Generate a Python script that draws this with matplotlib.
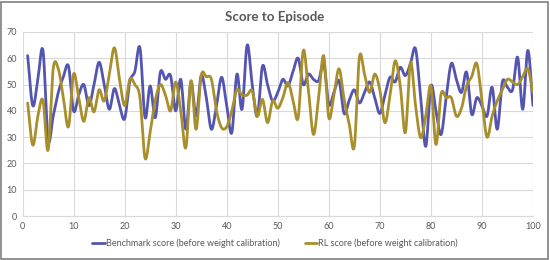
import numpy as np
import matplotlib.pyplot as plt

plt.rcParams['font.family'] = ['Lato', 'DejaVu Sans']

episodes = list(range(1, 101))
benchmark = [61, 42, 52, 63, 29, 38, 47, 53, 57, 40,
             46, 50, 42, 50, 58.5, 50, 40.6, 48.5, 42, 37,
             51, 55, 64, 37.5, 49.5, 37.4, 54.7, 52, 53.4, 40,
             52, 33, 51, 38, 53.4, 45, 33, 42, 52.8, 42,
             31.7, 54, 40.6, 65, 50, 38, 57, 50, 43.8, 47,
             52, 49.5, 55, 60, 50, 54, 52, 51.5, 58, 42.5,
             47, 51.5, 39, 44, 48, 43, 47, 51, 45, 39,
             46, 52.8, 51, 56.6, 53.4, 58, 63.6, 45, 26.5, 49.5,
             40, 31, 45, 58, 52, 47, 54.7, 38.7, 45, 42,
             38, 49, 33, 51, 49, 48, 60.4, 40.6, 63, 42]
rl = [43, 27, 38, 44, 25, 56, 56, 45, 34, 54,
      45, 36, 45, 39.6, 48, 43.8, 54, 64, 52, 42,
      52, 50, 45, 22, 32, 44, 50, 46, 40, 51,
      40, 26, 51.5, 33, 53.4, 53, 52, 40, 33.6, 34,
      40, 48, 46, 46, 47.6, 38, 44.4, 35.5, 43.8, 41,
      45, 50.8, 44, 37.4, 63, 48, 31, 45, 61, 37.4,
      46, 56, 44.4, 35, 26.5, 60.4, 54, 47, 54, 48,
      35.5, 46, 59, 49.5, 31.7, 58.5, 42, 29.8, 38, 49.5,
      27.2, 46.4, 45, 45, 38, 41, 49.5, 53, 58, 44,
      30, 38, 43.8, 48, 52, 51, 50, 53, 56, 47]
labels = ['Benchmark score (before weight calibration)',
          'RL score (before weight calibration)']
colors = ['#5455b0', '#a88f2c']


def smooth(x, y, n=12):
    # catmull-rom, close to excel's "smoothed line"
    x = np.asarray(x, float)
    y = np.asarray(y, float)
    px = np.concatenate([[2 * x[0] - x[1]], x, [2 * x[-1] - x[-2]]])
    py = np.concatenate([[2 * y[0] - y[1]], y, [2 * y[-1] - y[-2]]])
    t = np.linspace(0, 1, n, endpoint=False)[:, None]
    out = []
    for p in (px, py):
        p0, p1, p2, p3 = p[:-3], p[1:-2], p[2:-1], p[3:]
        s = 0.5 * ((2 * p1) + (-p0 + p2) * t + (2 * p0 - 5 * p1 + 4 * p2 - p3) * t ** 2
                   + (-p0 + 3 * p1 - 3 * p2 + p3) * t ** 3)
        out.append(np.concatenate([s.T.ravel(), [p[-2]]]))
    return out


fig = plt.figure(figsize=(5.5, 2.6), dpi=100)
ax = fig.add_axes([0.041, 0.169, 0.928, 0.708])

for ys, lab, c in zip([benchmark, rl], labels, colors):
    sx, sy = smooth(episodes, ys)
    ax.plot(sx, sy, color=c, lw=2.0, label=lab, solid_capstyle='round')

ax.set_xlim(0, 100)
ax.set_ylim(0, 70)
ax.set_xticks(range(0, 101, 10))
ax.set_yticks(range(0, 71, 10))
ax.grid(True, color='#d9d9d9', lw=0.8)
ax.set_axisbelow(True)
for s in ax.spines.values():
    s.set_visible(False)
ax.spines['bottom'].set_visible(True)
ax.spines['bottom'].set_color('#d9d9d9')
ax.tick_params(length=0, labelsize=6.5, labelcolor='#595959', pad=4)

fig.text(0.5, 0.935, 'Score to Episode', ha='center', va='center',
         fontsize=9.5, color='#595959', fontweight='bold')
fig.legend(loc='center', bbox_to_anchor=(0.5, 0.065), ncol=2, frameon=False,
           fontsize=6.5, labelcolor='#595959', handlelength=1.4,
           handletextpad=0.1, columnspacing=2.8)

fig.patches.append(plt.Rectangle((0.002, 0.004), 0.995, 0.99, transform=fig.transFigure,
                                 fill=False, edgecolor='#7f7f7f', lw=1.2))

fig.savefig('out.png', dpi=100)
